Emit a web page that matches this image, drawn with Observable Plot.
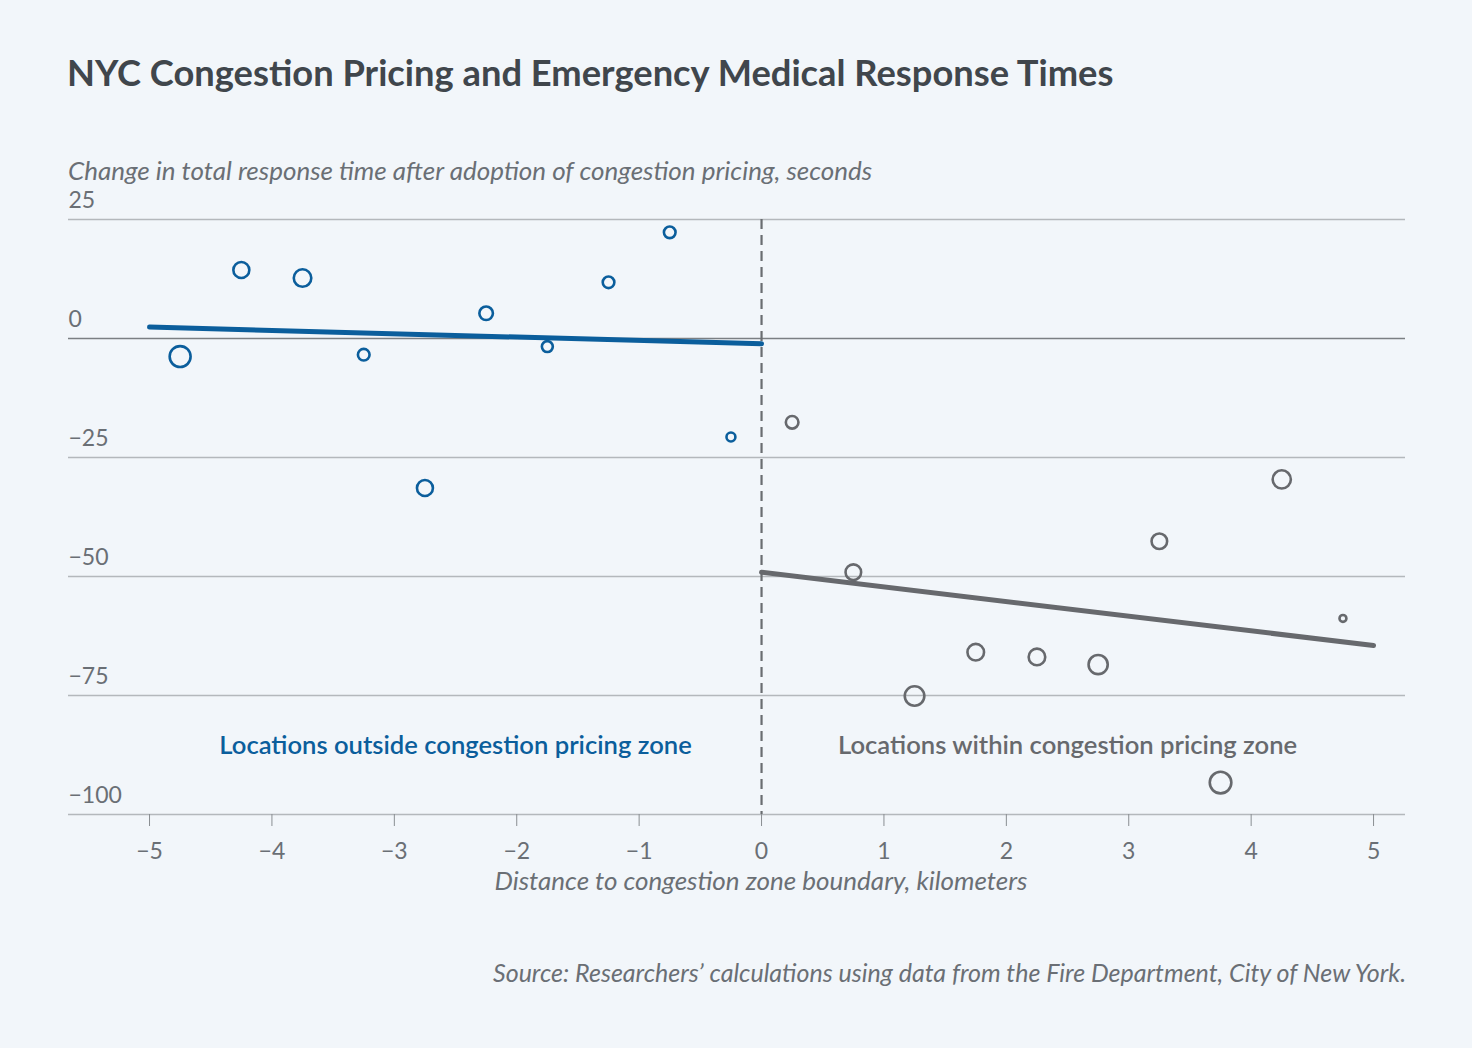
<!DOCTYPE html>
<html>
<head>
<meta charset="utf-8">
<script src="https://cdn.jsdelivr.net/npm/d3@7"></script>
<script src="https://cdn.jsdelivr.net/npm/@observablehq/plot@0.6"></script>
<style>
  html, body { margin: 0; padding: 0; background: #f2f6fa; }
  body { width: 1472px; height: 1048px; position: relative; overflow: hidden; font-family: "Source Sans Pro", Lato, "Open Sans", sans-serif; }
  #title { position: absolute; left: 67px; top: 50px; font-size: 36.3px; font-weight: 700; color: #40464c; white-space: nowrap; }
  #subtitle { position: absolute; left: 68px; top: 154px; font-size: 26px; font-style: italic; color: #6a6f75; white-space: nowrap; }
  #chart { position: absolute; left: 0; top: 170px; }
  #xlabel { position: absolute; left: 0; width: 1522px; top: 864px; text-align: center; font-size: 26px; font-style: italic; color: #6a6f75; }
  #source { position: absolute; right: 66px; top: 957px; font-size: 25px; font-style: italic; color: #6a6f75; white-space: nowrap; }
</style>
</head>
<body>
<div id="title">NYC Congestion Pricing and Emergency Medical Response Times</div>
<div id="subtitle">Change in total response time after adoption of congestion pricing, seconds</div>
<div id="chart"></div>
<div id="xlabel">Distance to congestion zone boundary, kilometers</div>
<div id="source">Source: Researchers’ calculations using data from the Fire Department, City of New York.</div>
<script>
// Distance bins (km) and change in response time (seconds); weight = relative marker size
const outsideX = [-4.75, -4.25, -3.75, -3.25, -2.75, -2.25, -1.75, -1.25, -0.75, -0.25];
const outsideY = [-3.8, 14.4, 12.7, -3.4, -31.4, 5.3, -1.7, 11.8, 22.3, -20.7];
const outsideW = [110, 64, 77, 34, 64, 46, 30, 34, 34, 20];

const insideX = [0.25, 0.75, 1.25, 1.75, 2.25, 2.75, 3.25, 3.75, 4.25, 4.75];
const insideY = [-17.6, -49.1, -75.1, -65.9, -66.9, -68.5, -42.6, -93.3, -29.6, -58.8];
const insideW = [40, 61, 96, 69, 69, 92, 61, 117, 83, 12];

// Fitted lines (endpoints)
const fitOutsideX = [-5, 0];
const fitOutsideY = [2.4, -1.1];
const fitInsideX = [0, 5];
const fitInsideY = [-49.1, -64.5];

const yTicks = [25, 0, -25, -50, -75, -100];
const xTicks = [-5, -4, -3, -2, -1, 0, 1, 2, 3, 4, 5];

const zoneLabels = ["Locations outside congestion pricing zone", "Locations within congestion pricing zone"];
const zoneLabelX = [-2.5, 2.5];
const zoneLabelY = -85.5;

const BLUE = "#0b5e9c";
const GREY = "#67696d";
const TEXT = "#6a6f75";

const outside = outsideX.map((x, i) => ({x, y: outsideY[i], w: outsideW[i]}));
const inside = insideX.map((x, i) => ({x, y: insideY[i], w: insideW[i]}));
const fitOut = fitOutsideX.map((x, i) => ({x, y: fitOutsideY[i]}));
const fitIn = fitInsideX.map((x, i) => ({x, y: fitInsideY[i]}));
const labels = zoneLabels.map((t, i) => ({t, x: zoneLabelX[i], y: zoneLabelY, c: i === 0 ? BLUE : GREY}));

const xDomain = [-5.662, 5.261];
const fmt = d => d < 0 ? "\u2212" + Math.abs(d) : String(d);

const chart = Plot.plot({
  width: 1472,
  height: 740,
  marginLeft: 68,
  marginRight: 67,
  marginTop: 49,
  marginBottom: 96,
  style: {background: "transparent", fontFamily: "'Source Sans Pro', Lato, 'Open Sans', sans-serif"},
  x: {domain: xDomain},
  y: {domain: [-100, 25], axis: null},
  r: {type: "sqrt", domain: [0, 117], range: [0, 10.8]},
  marks: [
    Plot.ruleY(yTicks.filter(d => d !== 0), {y: d => d, x1: xDomain[0], x2: xDomain[1], stroke: "#b4b8bc", strokeWidth: 1.6}),
    Plot.ruleY([0], {x1: xDomain[0], x2: xDomain[1], stroke: "#7b7f83", strokeWidth: 1.6}),
    Plot.text(yTicks, {x: xDomain[0], y: d => d, text: fmt, textAnchor: "start", dy: -19, fontSize: 23, fill: TEXT}),
    Plot.axisX({ticks: xTicks, tickFormat: fmt, tickSize: 12, tickPadding: 16, fontSize: 23, color: TEXT, stroke: "#8a8e92", label: null}),
    Plot.ruleX([0], {y1: 25, y2: -100, stroke: "#6a6d71", strokeWidth: 2.2, strokeDasharray: "10,6"}),
    Plot.line(fitOut, {x: "x", y: "y", stroke: BLUE, strokeWidth: 5}),
    Plot.line(fitIn, {x: "x", y: "y", stroke: GREY, strokeWidth: 5}),
    Plot.dot(outside, {x: "x", y: "y", r: "w", stroke: BLUE, strokeWidth: 2.6, fill: "none"}),
    Plot.dot(inside, {x: "x", y: "y", r: "w", stroke: GREY, strokeWidth: 2.6, fill: "none"}),
    Plot.text(labels, {x: "x", y: "y", text: "t", fill: "c", fontSize: 25.6, fontWeight: 600})
  ]
});
document.getElementById("chart").appendChild(chart);
</script>
</body>
</html>
